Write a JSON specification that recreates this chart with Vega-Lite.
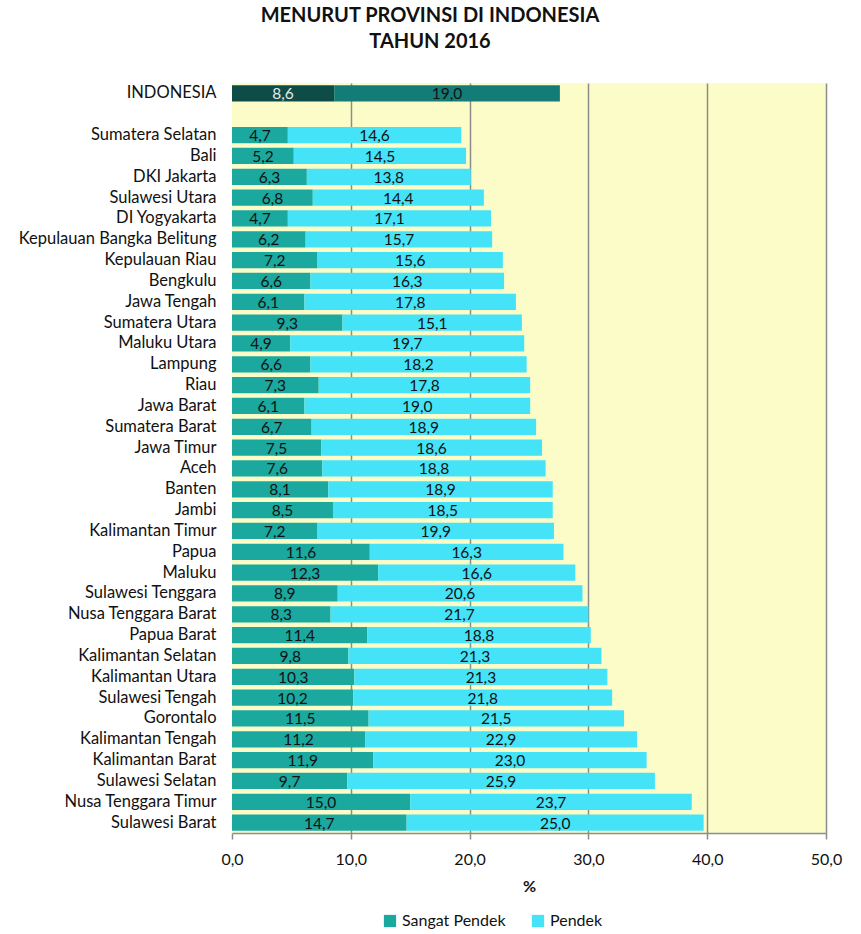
{
  "$schema": "https://vega.github.io/schema/vega-lite/v6.json",
  "width": 594,
  "height": 750,
  "autosize": {"type": "none"},
  "padding": {"left": 232, "top": 83, "right": 35, "bottom": 101},
  "background": "white",
  "config": {
    "locale": {"number": {"decimal": ",", "thousands": ".", "grouping": [3], "currency": ["", ""]}},
    "font": "Lato",
    "view": {"stroke": null, "fill": "#FCFCC9"}
  },
  "title": {
    "text": ["MENURUT PROVINSI DI INDONESIA", "TAHUN 2016"],
    "font": "Lato",
    "fontSize": 20,
    "fontWeight": "bold",
    "color": "#111111",
    "anchor": "middle",
    "dx": -99,
    "offset": 31,
    "lineHeight": 26
  },
  "data": {
    "values": [
      {"provinsi": "INDONESIA", "kategori": "Sangat Pendek", "tingkat": 1, "nilai": 8.6},
      {"provinsi": "INDONESIA", "kategori": "Pendek", "tingkat": 2, "nilai": 19.0},
      {"provinsi": "Sumatera Selatan", "kategori": "Sangat Pendek", "tingkat": 1, "nilai": 4.7},
      {"provinsi": "Sumatera Selatan", "kategori": "Pendek", "tingkat": 2, "nilai": 14.6},
      {"provinsi": "Bali", "kategori": "Sangat Pendek", "tingkat": 1, "nilai": 5.2},
      {"provinsi": "Bali", "kategori": "Pendek", "tingkat": 2, "nilai": 14.5},
      {"provinsi": "DKI Jakarta", "kategori": "Sangat Pendek", "tingkat": 1, "nilai": 6.3},
      {"provinsi": "DKI Jakarta", "kategori": "Pendek", "tingkat": 2, "nilai": 13.8},
      {"provinsi": "Sulawesi Utara", "kategori": "Sangat Pendek", "tingkat": 1, "nilai": 6.8},
      {"provinsi": "Sulawesi Utara", "kategori": "Pendek", "tingkat": 2, "nilai": 14.4},
      {"provinsi": "DI Yogyakarta", "kategori": "Sangat Pendek", "tingkat": 1, "nilai": 4.7},
      {"provinsi": "DI Yogyakarta", "kategori": "Pendek", "tingkat": 2, "nilai": 17.1},
      {"provinsi": "Kepulauan Bangka Belitung", "kategori": "Sangat Pendek", "tingkat": 1, "nilai": 6.2},
      {"provinsi": "Kepulauan Bangka Belitung", "kategori": "Pendek", "tingkat": 2, "nilai": 15.7},
      {"provinsi": "Kepulauan Riau", "kategori": "Sangat Pendek", "tingkat": 1, "nilai": 7.2},
      {"provinsi": "Kepulauan Riau", "kategori": "Pendek", "tingkat": 2, "nilai": 15.6},
      {"provinsi": "Bengkulu", "kategori": "Sangat Pendek", "tingkat": 1, "nilai": 6.6},
      {"provinsi": "Bengkulu", "kategori": "Pendek", "tingkat": 2, "nilai": 16.3},
      {"provinsi": "Jawa Tengah", "kategori": "Sangat Pendek", "tingkat": 1, "nilai": 6.1},
      {"provinsi": "Jawa Tengah", "kategori": "Pendek", "tingkat": 2, "nilai": 17.8},
      {"provinsi": "Sumatera Utara", "kategori": "Sangat Pendek", "tingkat": 1, "nilai": 9.3},
      {"provinsi": "Sumatera Utara", "kategori": "Pendek", "tingkat": 2, "nilai": 15.1},
      {"provinsi": "Maluku Utara", "kategori": "Sangat Pendek", "tingkat": 1, "nilai": 4.9},
      {"provinsi": "Maluku Utara", "kategori": "Pendek", "tingkat": 2, "nilai": 19.7},
      {"provinsi": "Lampung", "kategori": "Sangat Pendek", "tingkat": 1, "nilai": 6.6},
      {"provinsi": "Lampung", "kategori": "Pendek", "tingkat": 2, "nilai": 18.2},
      {"provinsi": "Riau", "kategori": "Sangat Pendek", "tingkat": 1, "nilai": 7.3},
      {"provinsi": "Riau", "kategori": "Pendek", "tingkat": 2, "nilai": 17.8},
      {"provinsi": "Jawa Barat", "kategori": "Sangat Pendek", "tingkat": 1, "nilai": 6.1},
      {"provinsi": "Jawa Barat", "kategori": "Pendek", "tingkat": 2, "nilai": 19.0},
      {"provinsi": "Sumatera Barat", "kategori": "Sangat Pendek", "tingkat": 1, "nilai": 6.7},
      {"provinsi": "Sumatera Barat", "kategori": "Pendek", "tingkat": 2, "nilai": 18.9},
      {"provinsi": "Jawa Timur", "kategori": "Sangat Pendek", "tingkat": 1, "nilai": 7.5},
      {"provinsi": "Jawa Timur", "kategori": "Pendek", "tingkat": 2, "nilai": 18.6},
      {"provinsi": "Aceh", "kategori": "Sangat Pendek", "tingkat": 1, "nilai": 7.6},
      {"provinsi": "Aceh", "kategori": "Pendek", "tingkat": 2, "nilai": 18.8},
      {"provinsi": "Banten", "kategori": "Sangat Pendek", "tingkat": 1, "nilai": 8.1},
      {"provinsi": "Banten", "kategori": "Pendek", "tingkat": 2, "nilai": 18.9},
      {"provinsi": "Jambi", "kategori": "Sangat Pendek", "tingkat": 1, "nilai": 8.5},
      {"provinsi": "Jambi", "kategori": "Pendek", "tingkat": 2, "nilai": 18.5},
      {"provinsi": "Kalimantan Timur", "kategori": "Sangat Pendek", "tingkat": 1, "nilai": 7.2},
      {"provinsi": "Kalimantan Timur", "kategori": "Pendek", "tingkat": 2, "nilai": 19.9},
      {"provinsi": "Papua", "kategori": "Sangat Pendek", "tingkat": 1, "nilai": 11.6},
      {"provinsi": "Papua", "kategori": "Pendek", "tingkat": 2, "nilai": 16.3},
      {"provinsi": "Maluku", "kategori": "Sangat Pendek", "tingkat": 1, "nilai": 12.3},
      {"provinsi": "Maluku", "kategori": "Pendek", "tingkat": 2, "nilai": 16.6},
      {"provinsi": "Sulawesi Tenggara", "kategori": "Sangat Pendek", "tingkat": 1, "nilai": 8.9},
      {"provinsi": "Sulawesi Tenggara", "kategori": "Pendek", "tingkat": 2, "nilai": 20.6},
      {"provinsi": "Nusa Tenggara Barat", "kategori": "Sangat Pendek", "tingkat": 1, "nilai": 8.3},
      {"provinsi": "Nusa Tenggara Barat", "kategori": "Pendek", "tingkat": 2, "nilai": 21.7},
      {"provinsi": "Papua Barat", "kategori": "Sangat Pendek", "tingkat": 1, "nilai": 11.4},
      {"provinsi": "Papua Barat", "kategori": "Pendek", "tingkat": 2, "nilai": 18.8},
      {"provinsi": "Kalimantan Selatan", "kategori": "Sangat Pendek", "tingkat": 1, "nilai": 9.8},
      {"provinsi": "Kalimantan Selatan", "kategori": "Pendek", "tingkat": 2, "nilai": 21.3},
      {"provinsi": "Kalimantan Utara", "kategori": "Sangat Pendek", "tingkat": 1, "nilai": 10.3},
      {"provinsi": "Kalimantan Utara", "kategori": "Pendek", "tingkat": 2, "nilai": 21.3},
      {"provinsi": "Sulawesi Tengah", "kategori": "Sangat Pendek", "tingkat": 1, "nilai": 10.2},
      {"provinsi": "Sulawesi Tengah", "kategori": "Pendek", "tingkat": 2, "nilai": 21.8},
      {"provinsi": "Gorontalo", "kategori": "Sangat Pendek", "tingkat": 1, "nilai": 11.5},
      {"provinsi": "Gorontalo", "kategori": "Pendek", "tingkat": 2, "nilai": 21.5},
      {"provinsi": "Kalimantan Tengah", "kategori": "Sangat Pendek", "tingkat": 1, "nilai": 11.2},
      {"provinsi": "Kalimantan Tengah", "kategori": "Pendek", "tingkat": 2, "nilai": 22.9},
      {"provinsi": "Kalimantan Barat", "kategori": "Sangat Pendek", "tingkat": 1, "nilai": 11.9},
      {"provinsi": "Kalimantan Barat", "kategori": "Pendek", "tingkat": 2, "nilai": 23.0},
      {"provinsi": "Sulawesi Selatan", "kategori": "Sangat Pendek", "tingkat": 1, "nilai": 9.7},
      {"provinsi": "Sulawesi Selatan", "kategori": "Pendek", "tingkat": 2, "nilai": 25.9},
      {"provinsi": "Nusa Tenggara Timur", "kategori": "Sangat Pendek", "tingkat": 1, "nilai": 15.0},
      {"provinsi": "Nusa Tenggara Timur", "kategori": "Pendek", "tingkat": 2, "nilai": 23.7},
      {"provinsi": "Sulawesi Barat", "kategori": "Sangat Pendek", "tingkat": 1, "nilai": 14.7},
      {"provinsi": "Sulawesi Barat", "kategori": "Pendek", "tingkat": 2, "nilai": 25.0}
    ]
  },
  "transform": [
    {"stack": "nilai", "groupby": ["provinsi"], "sort": [{"field": "tingkat", "order": "ascending"}], "as": ["awal", "akhir"]},
    {"calculate": "(datum.awal + datum.akhir) / 2", "as": "tengah"}
  ],
  "encoding": {
    "y": {
      "field": "provinsi",
      "type": "nominal",
      "title": null,
      "scale": {
        "domain": ["INDONESIA", " ", "Sumatera Selatan", "Bali", "DKI Jakarta", "Sulawesi Utara", "DI Yogyakarta", "Kepulauan Bangka Belitung", "Kepulauan Riau", "Bengkulu", "Jawa Tengah", "Sumatera Utara", "Maluku Utara", "Lampung", "Riau", "Jawa Barat", "Sumatera Barat", "Jawa Timur", "Aceh", "Banten", "Jambi", "Kalimantan Timur", "Papua", "Maluku", "Sulawesi Tenggara", "Nusa Tenggara Barat", "Papua Barat", "Kalimantan Selatan", "Kalimantan Utara", "Sulawesi Tengah", "Gorontalo", "Kalimantan Tengah", "Kalimantan Barat", "Sulawesi Selatan", "Nusa Tenggara Timur", "Sulawesi Barat"],
        "paddingInner": 0.22,
        "paddingOuter": 0.11
      },
      "axis": {
        "ticks": false,
        "domain": false,
        "labelFont": "Lato",
        "labelFontSize": 16.5,
        "labelColor": "#111111",
        "labelPadding": 16,
        "labelLimit": 300
      }
    }
  },
  "layer": [
    {
      "mark": {"type": "bar"},
      "encoding": {
        "x": {
          "field": "awal",
          "type": "quantitative",
          "title": "%",
          "scale": {"domain": [0, 50], "nice": false},
          "axis": {
            "values": [0, 10, 20, 30, 40, 50],
            "format": ".1f",
            "labelFlush": false,
            "labelFont": "Lato",
            "labelFontSize": 16,
            "labelColor": "#111111",
            "labelPadding": 12,
            "ticks": true,
            "tickSize": 6,
            "tickColor": "#8c8c8c",
            "tickWidth": 1.5,
            "domainColor": "#8c8c8c",
            "domainWidth": 1.5,
            "grid": true,
            "gridColor": {"condition": {"test": "datum.value === 0", "value": "transparent"}, "value": "#8c8c8c"},
            "gridWidth": 1.5,
            "titleFont": "Lato",
            "titleFontSize": 16,
            "titleFontWeight": "bold",
            "titleColor": "#111111",
            "titlePadding": 11
          }
        },
        "x2": {"field": "akhir"},
        "color": {
          "condition": [
            {"test": "datum.provinsi === 'INDONESIA' && datum.kategori === 'Sangat Pendek'", "value": "#0E4C48"},
            {"test": "datum.provinsi === 'INDONESIA'", "value": "#147C77"}
          ],
          "field": "kategori",
          "type": "nominal",
          "scale": {"domain": ["Sangat Pendek", "Pendek"], "range": ["#1BA89E", "#45E3F7"]},
          "legend": {
            "orient": "none",
            "legendX": 150,
            "legendY": 830,
            "direction": "horizontal",
            "title": null,
            "symbolType": "square",
            "symbolSize": 150,
            "symbolStrokeWidth": 0,
            "labelFont": "Lato",
            "labelFontSize": 16,
            "labelColor": "#111111",
            "columnPadding": 24
          }
        }
      }
    },
    {
      "mark": {"type": "text", "align": "center", "baseline": "middle", "font": "Lato", "fontSize": 15.5, "dy": 1},
      "encoding": {
        "x": {"field": "tengah", "type": "quantitative"},
        "text": {"field": "nilai", "type": "quantitative", "format": ".1f"},
        "color": {
          "condition": {"test": "datum.provinsi === 'INDONESIA' && datum.kategori === 'Sangat Pendek'", "value": "#E8E8E8"},
          "value": "#111111"
        }
      }
    }
  ]
}
